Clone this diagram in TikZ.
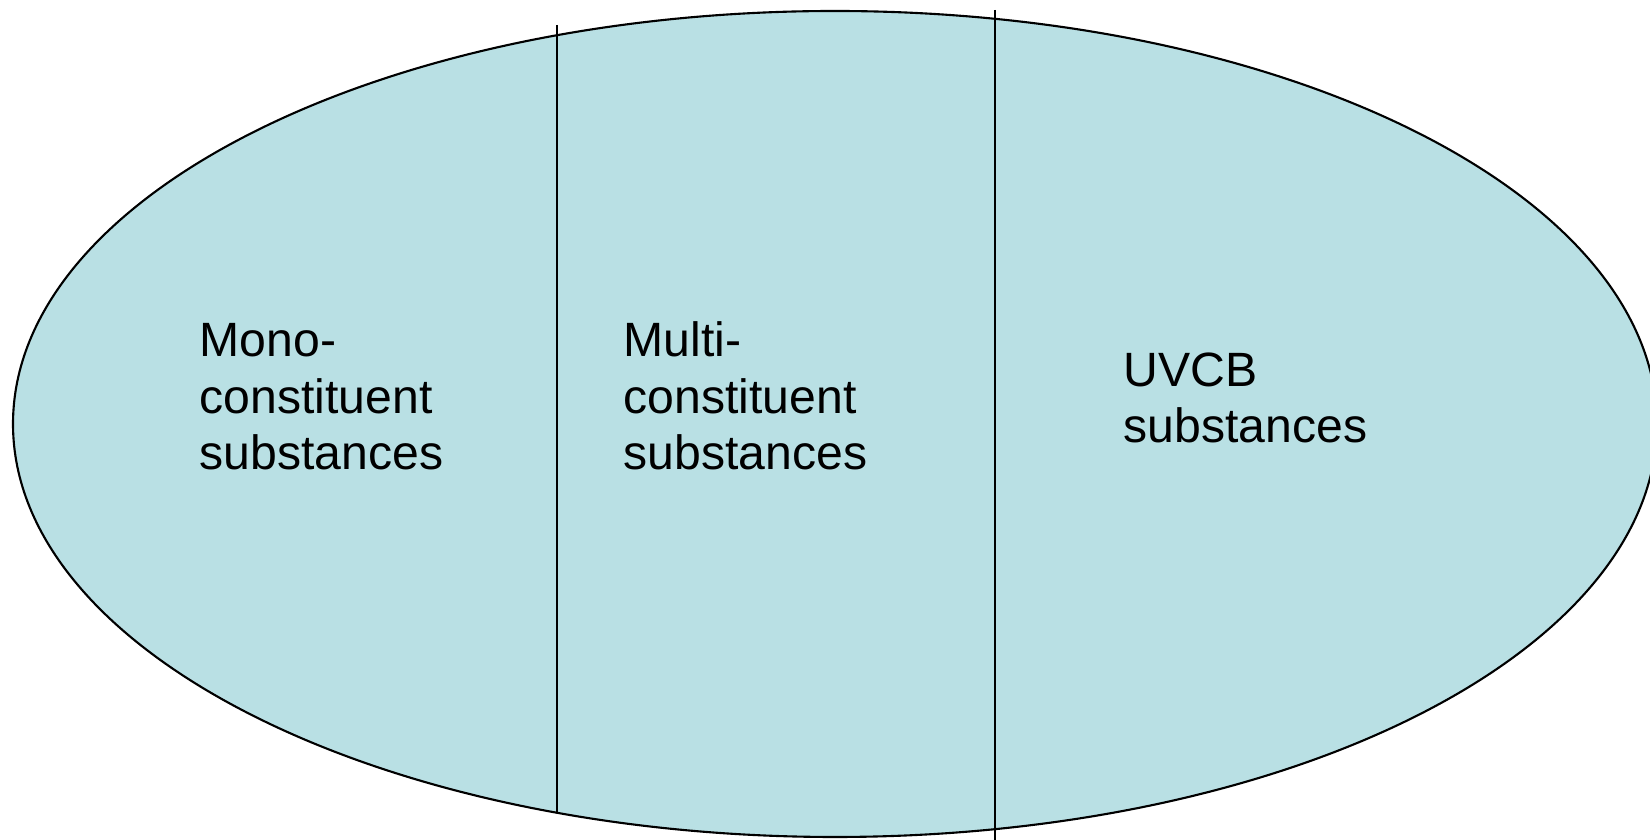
\documentclass[tikz,border=0pt]{standalone}
\usepackage{fontspec}
\setmainfont{Liberation Sans}
\definecolor{substblue}{RGB}{185,224,228}
\tikzset{label text/.style={anchor=base west,align=left,inner sep=0pt,font=\fontsize{13.7}{16.2}\selectfont}}
\begin{document}
\begin{tikzpicture}
\useasboundingbox (0,0) rectangle (16.5,8.4);
%\draw[step=0.5cm,gray,very thin] (0,0) grid (16.5,8.4); %background grid

\draw[fill=substblue,line width=0.6pt] (8.35,4.16) ellipse (8.22 and 4.13);

\draw[line width=0.6pt] (5.57,8.15) -- (5.57,0.27);
\draw[line width=0.6pt] (9.95,8.30) -- (9.95,-0.10);

% base anchor sits on the last line
\node[label text] (mono)  at (1.99,3.70) {Mono-\\constituent\\substances};
\node[label text] (multi) at (6.23,3.70) {Multi-\\constituent\\substances};
\node[label text] (uvcb)  at (11.23,3.97) {UVCB\\substances};

\end{tikzpicture}
\end{document}
